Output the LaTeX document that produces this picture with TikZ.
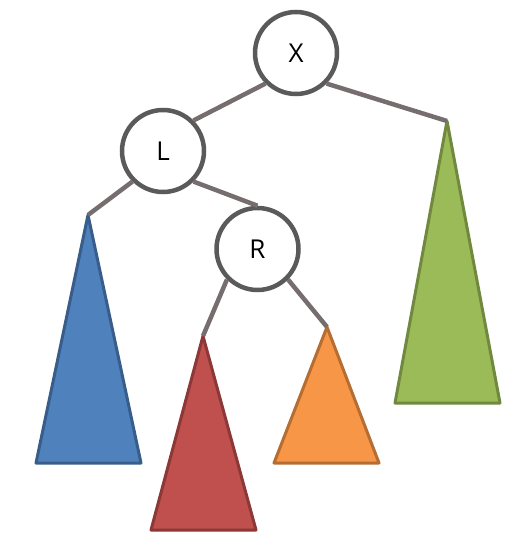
\documentclass[tikz,border=0pt]{standalone}
\usepackage{fontspec}
\setmainfont{Open Sans}
\definecolor{circ}{HTML}{5A5A5A}
\definecolor{conn}{HTML}{766E6E}
\definecolor{bluef}{HTML}{4F81BD}\definecolor{blued}{HTML}{385D8A}
\definecolor{redf}{HTML}{C0504D}\definecolor{redd}{HTML}{8C3836}
\definecolor{orf}{HTML}{F79646}\definecolor{ord}{HTML}{B66D31}
\definecolor{grf}{HTML}{9BBB59}\definecolor{grd}{HTML}{71893F}
\begin{document}
\begin{tikzpicture}[x=1pt,y=-1pt,
  treenode/.style={circle,draw=circ,line width=4.5pt,fill=white,minimum size=82pt,inner sep=0pt,font=\fontsize{26}{30}\selectfont},
  edge/.style={draw=conn,line width=4.5pt},
  subtree/.style={line width=3pt,line join=round}]
\useasboundingbox (0,0) rectangle (521,545);
% triangles
\filldraw[subtree,fill=bluef,draw=blued] (88,215) coordinate (tb) -- (141,463) -- (36,463) -- cycle;
\filldraw[subtree,fill=redf,draw=redd] (203,336) coordinate (tr) -- (256,530) -- (151,530) -- cycle;
\filldraw[subtree,fill=orf,draw=ord] (327,327) coordinate (to) -- (379,463) -- (274,463) -- cycle;
\filldraw[subtree,fill=grf,draw=grd] (447,121) coordinate (tg) -- (500,403) -- (395,403) -- cycle;
% nodes
\node[treenode] (X) at (296,53) {X};
\node[treenode] (L) at (163,151) {L};
\node[treenode] (R) at (257.5,249) {R};
% edges
\draw[edge] (X.225) -- (L.45);
\draw[edge] (X.-45) -- (tg);
\draw[edge] (L.-135) -- (tb);
\draw[edge] (L.-45) -- (R.north);
\draw[edge] (R.-135) -- (tr);
\draw[edge] (R.-45) -- (to);
\end{tikzpicture}
\end{document}
